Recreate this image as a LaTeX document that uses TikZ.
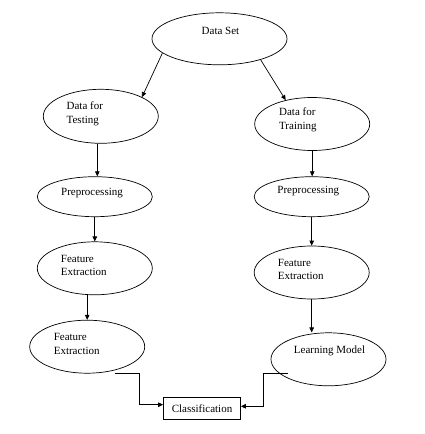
\documentclass[tikz,border=0pt]{standalone}
\usepackage{fontspec}
\setmainfont{Liberation Serif}
\usetikzlibrary{shapes.geometric,arrows.meta}

\begin{document}
\begin{tikzpicture}[x=1pt, y=-1pt,
		node_style/.style={ellipse,draw=black,line width=0.7pt,inner sep=0pt,minimum width=115pt,minimum height=53pt},
		box_style/.style={rectangle,draw=black,line width=0.7pt,inner sep=0pt,minimum width=77pt,minimum height=22pt,font=\fontsize{11}{13.5}\selectfont},
		text_style/.style={inner sep=0pt,align=left,font=\fontsize{11}{13.5}\selectfont},
		edge_style/.style={draw=black,line width=0.7pt,-{Triangle[length=5pt,width=4.5pt]}}]
		
		\useasboundingbox (0,0) rectangle (425,434);
		
		\node[node_style,minimum width=135pt,minimum height=52pt,label={[text_style,xshift=1pt,yshift=8pt]center:Data Set}] (n0) at (219.5,38.8) {};
		\node[node_style,minimum height=54pt,label={[text_style,xshift=-16pt,yshift=2.7pt]center:Data for\\Testing}] (n1) at (100.8,116.3) {};
		\node[node_style,label={[text_style,xshift=-14.3pt,yshift=4pt]center:Data for\\Training}] (n2) at (312.2,124) {};
		\node[node_style,minimum height=40pt,label={[text_style,xshift=-2.8pt,yshift=4pt]center:Preprocessing}] (n3) at (94.8,196.7) {};
		\node[node_style,minimum height=40pt,label={[text_style,xshift=-3.4pt,yshift=5.5pt]center:Preprocessing}] (n4) at (311.7,196.7) {};
		\node[node_style,label={[text_style,xshift=-11pt,yshift=3pt]center:Feature\\Extraction}] (n5) at (94.8,268.3) {};
		\node[node_style,label={[text_style,xshift=-10.9pt,yshift=3pt]center:Feature\\Extraction}] (n6) at (311.7,272.5) {};
		\node[node_style,label={[text_style,xshift=-10.5pt,yshift=3pt]center:Feature\\Extraction}] (n7) at (87.2,346.7) {};
		\node[node_style,label={[text_style,xshift=1pt,yshift=8.3pt]center:Learning Model}] (n8) at (328.5,359.3) {};
		\node[box_style] (n9) at (202,408.3) {Classification};
		
		\draw[edge_style]  (n0.194) -- (n1.25);
		\draw[edge_style]  (n0.-27) -- (n2.138);
		\draw[edge_style]  ([xshift=-3.5pt]n1.south) -- ([xshift=-3.5pt]n1.south |- n3.north);
		\draw[edge_style]  (n3.south) -- (n5.north);
		\draw[edge_style]  (n5.south -| n7.north) -- (n7.north);
		\draw[edge_style]  (n2.south) -- (n2.south |- n4.north);
		\draw[edge_style]  (n4.south) -- (n6.north);
		\draw[edge_style]  (n6.south) -- (n6.south |- n8.north);
		\draw[edge_style]  ([xshift=27.5pt]n7.south) -- ++(24.6,0) |- ([yshift=3.6pt]n9.west);
		\draw[edge_style]  ([xshift=-40.5pt,yshift=12.7pt]n8.south) -- ++(-24.3,0) |- ([yshift=2pt]n9.east);
		
\end{tikzpicture}
\end{document}
